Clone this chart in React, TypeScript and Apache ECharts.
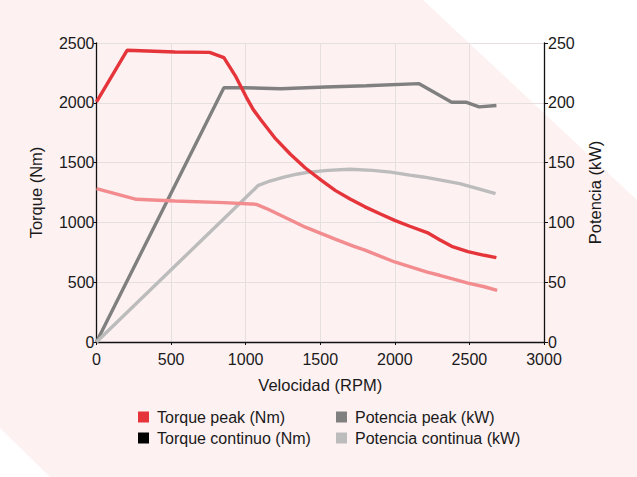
import React, { useEffect, useRef } from "react";
import * as echarts from "echarts";

const torquePeakRpm = [0, 205, 526, 758, 854, 935, 1004, 1050, 1100, 1200, 1300, 1400, 1508, 1600, 1700, 1800, 1900, 1999, 2100, 2217, 2300, 2381, 2490, 2600, 2681];
const torquePeakNm = [2007, 2439, 2425, 2422, 2377, 2216, 2048, 1945, 1860, 1700, 1570, 1455, 1352, 1268, 1195, 1130, 1072, 1017, 968, 915, 855, 800, 755, 725, 705];

const torqueContRpm = [0, 267, 526, 854, 1072, 1150, 1300, 1400, 1508, 1600, 1726, 1800, 1900, 1999, 2100, 2217, 2300, 2400, 2490, 2600, 2686];
const torqueContNm = [1282, 1193, 1179, 1165, 1151, 1110, 1020, 960, 906, 860, 800, 768, 718, 669, 630, 585, 558, 523, 493, 462, 432];

const powerPeakRpm = [0, 854, 990, 1235, 1535, 1808, 2163, 2381, 2476, 2565, 2681];
const powerPeakKw = [0, 212.6, 212.6, 211.8, 213.2, 214.3, 216, 200.5, 200.5, 196.6, 197.8];

const powerContRpm = [0, 1085, 1150, 1263, 1350, 1426, 1550, 1699, 1850, 1972, 2100, 2190, 2300, 2435, 2550, 2675];
const powerContKw = [0, 131, 134, 138, 140.5, 142, 143.5, 144.4, 143.5, 142, 139.5, 138, 135.5, 132.4, 128.5, 124];

const seriesNames = ["Torque peak (Nm)", "Torque continuo (Nm)", "Potencia peak (kW)", "Potencia continua (kW)"];
const legendColors = ["#e5353b", "#000000", "#808080", "#bcbcbc"];

const zip = (xs: number[], ys: number[]) => xs.map((x, i) => [x, ys[i]]);

export default function App() {
  const ref = useRef<HTMLDivElement>(null);
  useEffect(() => {
    if (!ref.current) return;
    const chart = echarts.init(ref.current, null, { renderer: "svg" });
    const font = "'Liberation Sans', Arial, sans-serif";
    const axisLine = { show: true, lineStyle: { color: "#111", width: 1.3 } };
    const split = { show: true, lineStyle: { color: "#e6dfe0", width: 1 } };
    const plain = (v: number) => String(v);
    const legendText = { fontSize: 16, color: "#1a1a1a", fontFamily: font, padding: [0, 0, 0, 3] };
    chart.setOption({
      animation: false,
      backgroundColor: "#ffffff",
      textStyle: { fontFamily: font, color: "#1a1a1a" },
      graphic: [
        {
          type: "polygon",
          z: -100,
          silent: true,
          shape: {
            points: [
              [0, 0],
              [423, 0],
              [637, 200],
              [637, 477],
              [50, 477],
              [0, 428],
            ],
          },
          style: { fill: "#fdf1f2" },
        },
      ],
      grid: { left: 96.5, right: 93, top: 43, bottom: 135, containLabel: false },
      legend: [
        {
          orient: "vertical",
          left: 133,
          top: 404,
          itemWidth: 11,
          itemHeight: 11,
          itemGap: 5,
          icon: "rect",
          textStyle: legendText,
          data: [
            { name: seriesNames[0], itemStyle: { color: legendColors[0] } },
            { name: seriesNames[1], itemStyle: { color: legendColors[1] } },
          ],
        },
        {
          orient: "vertical",
          left: 331,
          top: 404,
          itemWidth: 11,
          itemHeight: 11,
          itemGap: 5,
          icon: "rect",
          textStyle: legendText,
          data: [
            { name: seriesNames[2], itemStyle: { color: legendColors[2] } },
            { name: seriesNames[3], itemStyle: { color: legendColors[3] } },
          ],
        },
      ],
      xAxis: {
        type: "value",
        min: 0,
        max: 3000,
        interval: 500,
        name: "Velocidad (RPM)",
        nameLocation: "middle",
        nameGap: 34,
        nameTextStyle: { fontSize: 16.5, color: "#1a1a1a" },
        axisLine,
        axisTick: { show: true, length: 3, lineStyle: { color: "#111" } },
        axisLabel: { fontSize: 16, color: "#1a1a1a", margin: 9, formatter: plain },
        splitLine: split,
      },
      yAxis: [
        {
          type: "value",
          min: 0,
          max: 2500,
          interval: 500,
          name: "Torque (Nm)",
          nameLocation: "middle",
          nameRotate: 90,
          nameGap: 52,
          nameTextStyle: { fontSize: 16.5, color: "#1a1a1a" },
          axisLine,
          axisTick: { show: true, length: 3, lineStyle: { color: "#111" } },
          axisLabel: { fontSize: 16, color: "#1a1a1a", margin: 2, formatter: plain },
          splitLine: split,
        },
        {
          type: "value",
          min: 0,
          max: 250,
          interval: 50,
          position: "right",
          name: "Potencia (kW)",
          nameLocation: "middle",
          nameRotate: 90,
          nameGap: 42,
          nameTextStyle: { fontSize: 16.5, color: "#1a1a1a" },
          axisLine,
          axisTick: { show: true, length: 4, lineStyle: { color: "#111" } },
          axisLabel: { fontSize: 16, color: "#1a1a1a", margin: 4, formatter: plain },
          splitLine: { show: false },
        },
      ],
      series: [
        {
          name: seriesNames[2],
          type: "line",
          yAxisIndex: 1,
          data: zip(powerPeakRpm, powerPeakKw),
          symbol: "none",
          lineStyle: { color: "#808080", width: 3.4 },
          itemStyle: { color: legendColors[2] },
        },
        {
          name: seriesNames[3],
          type: "line",
          yAxisIndex: 1,
          data: zip(powerContRpm, powerContKw),
          symbol: "none",
          lineStyle: { color: "#bcbcbc", width: 3.4 },
          itemStyle: { color: legendColors[3] },
        },
        {
          name: seriesNames[1],
          type: "line",
          yAxisIndex: 0,
          data: zip(torqueContRpm, torqueContNm),
          symbol: "none",
          lineStyle: { color: "#f28c8f", width: 3.4 },
          itemStyle: { color: legendColors[1] },
        },
        {
          name: seriesNames[0],
          type: "line",
          yAxisIndex: 0,
          data: zip(torquePeakRpm, torquePeakNm),
          symbol: "none",
          lineStyle: { color: "#e5353b", width: 3.4 },
          itemStyle: { color: legendColors[0] },
        },
      ],
    });
    return () => chart.dispose();
  }, []);
  return <div ref={ref} style={{ position: "fixed", left: 0, top: 0, width: 637, height: 477 }} />;
}
